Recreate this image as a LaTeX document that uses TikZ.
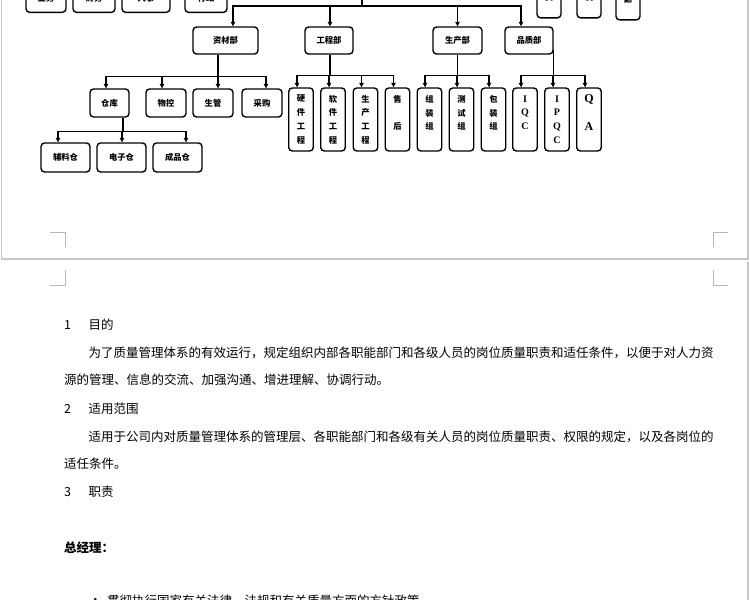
\documentclass[tikz,border=0pt]{standalone}
\usepackage{fontspec}
\setmainfont{Noto Sans CJK SC}
\newfontfamily\cnfont{Noto Sans CJK SC}
\newfontfamily\enfont{Liberation Serif}
\usetikzlibrary{arrows.meta}

\newcommand\chartfont{\cnfont\bfseries\fontsize{8.3}{13.7}\selectfont}
\newcommand\latfont{\enfont\bfseries\fontsize{10}{13.7}\selectfont}
\newcommand\bodyfont{\fontsize{12.5}{15}\selectfont}

\begin{document}
\begin{tikzpicture}[
  x=1pt, y=1pt,
  box/.style   ={draw, line width=1.4pt, rounded corners=3.5pt, fill=white,
                 inner sep=0pt, align=center, font=\chartfont},
  hbox/.style  ={box, minimum height=28},
  vbox/.style  ={box, minimum width=24.5, minimum height=63},
  cutbox/.style={box, minimum width=24, inner ysep=3.5pt},
  ar/.style    ={-{Triangle[length=4.5pt,width=4.5pt]}, line width=1.2pt},
  ln/.style    ={line width=1.2pt},
  pagebd/.style={draw=black!22, line width=1.2pt},
  crop/.style  ={draw=black!28, line width=0.8pt},
  para/.style  ={anchor=west, inner sep=0pt, font=\bodyfont}
]
\useasboundingbox (0,0) rectangle (750,-600);

% page edges and crop marks
\draw[pagebd] (1.5,5) |- (748,-259) -- (748,5);
\draw[pagebd] (748,-262) -- (748,-605);
\draw[crop] (50,-232) -| (65,-247);
\draw[crop] (728,-232) -| (713,-247);
\draw[crop] (65,-270) |- (50,-285);
\draw[crop] (713,-270) |- (728,-285);

% first row, cut by the page top
\node[hbox, minimum width=40, anchor=south] (yw) at (46,-13) {业务};
\node[hbox, minimum width=42, anchor=south] (cw) at (94,-13) {财务};
\node[hbox, minimum width=48, anchor=south] (rs) at (146,-13) {人事};
\node[hbox, minimum width=42, anchor=south] (xz) at (206,-13) {行政};
\node[cutbox, anchor=south] (wy) at (549,-18.5) {文\\员\\\mbox{}};
\node[cutbox, anchor=south] (sj) at (589,-18.5) {司\\机\\\mbox{}};
\node[cutbox, anchor=south] (hq) at (628,-20.5) {后\\勤\\\mbox{}};

% departments
\node[hbox, minimum width=65, minimum height=27] (zcb) at (225.5,-40.5) {资材部};
\node[hbox, minimum width=48, minimum height=27] (gcb) at (329,-40.5) {工程部};
\node[hbox, minimum width=49, minimum height=27] (scb) at (457.5,-40.5) {生产部};
\node[hbox, minimum width=48, minimum height=27] (pzb) at (529,-40.5) {品质部};

% sections
\node[hbox, minimum width=39] (ck) at (109.5,-103) {仓库};
\node[hbox, minimum width=40] (wk) at (166,-103) {物控};
\node[hbox, minimum width=40] (sg) at (213,-103) {生管};
\node[hbox, minimum width=40] (cg) at (262,-103) {采购};

\node[vbox] (yj)   at (301,-119.5)   {硬\\件\\工\\程};
\node[vbox] (rj)   at (333,-119.5)   {软\\件\\工\\程};
\node[vbox] (scgc) at (365.5,-119.5) {生\\产\\工\\程};
\node[vbox] (sh)   at (397.5,-119.5) {售\\\mbox{}\\后\\\mbox{}};
\node[vbox] (zz)   at (429.5,-119.5) {组\\装\\组\\\mbox{}};
\node[vbox] (cs)   at (461.5,-119.5) {测\\试\\组\\\mbox{}};
\node[vbox] (bz)   at (493.5,-119.5) {包\\装\\组\\\mbox{}};
\node[vbox, font=\latfont] (iqc)  at (525,-119.5) {I\\Q\\C\\\mbox{}};
\node[vbox, font=\latfont] (ipqc) at (557,-119.5) {I\\P\\Q\\C};
\node[vbox, font=\latfont\fontsize{12}{13.7}\selectfont] (qa) at (589,-119.5)
  {Q\\\mbox{}\\A\\\mbox{}};

% stores
\node[hbox, minimum width=49, minimum height=29] (fl) at (65.5,-157.5)  {辅料仓};
\node[hbox, minimum width=49, minimum height=29] (dz) at (121.5,-157.5) {电子仓};
\node[hbox, minimum width=49, minimum height=29] (cp) at (177.5,-157.5) {成品仓};

% connectors
\coordinate (fz) at (362,8);
\coordinate (bus) at (362,-6);
\draw[ln] (fz) -- (bus);
\draw[ar] (bus) -| ([xshift=7.5]zcb.north);
\draw[ar] (bus) -| ([xshift=1]gcb.north);
\draw[ar] (bus) -| (scb.north);
\draw[ar] (bus) -| ([xshift=-8]pzb.north);

\draw[ln] ([xshift=-7.5]zcb.south) -- ++(0,-22) coordinate (zb);
\draw[ar] (zb) -| ([xshift=-3.5]ck.north);
\draw[ar] (zb) -| ([xshift=-4]wk.north);
\draw[ar] (zb) -| ([xshift=5]sg.north);
\draw[ar] (zb) -| ([xshift=4]cg.north);

\draw[ln] ([xshift=1]gcb.south) -- ++(0,-21) coordinate (gb);
\draw[ar] (gb) -| ([xshift=-4]yj.north);
\draw[ar] (gb) -| ([xshift=-4]rj.north);
\draw[ar] (gb) -| ([xshift=-4]scgc.north);
\draw[ar] (gb) -| ([xshift=-4]sh.north);

\draw[ln] (scb.south) -- ++(0,-21) coordinate (sb);
\draw[ar] (sb) -| ([xshift=-4.5]zz.north);
\draw[ar] (sb) -| ([xshift=-4.5]cs.north);
\draw[ar] (sb) -| ([xshift=-4.5]bz.north);

\draw[ln] ([yshift=5]pzb.south east) -- ++(0,-26) coordinate (pb);
\draw[ar] (pb) -| ([xshift=-4]iqc.north);
\draw[ar] (pb) -| ([xshift=-4]ipqc.north);
\draw[ar] (pb) -| ([xshift=-4]qa.north);

\draw[ln] ([xshift=13.5]ck.south) -- ++(0,-14) coordinate (cb);
\draw[ar] (cb) -| ([xshift=-7.5]fl.north);
\draw[ar] (cb) -| ([xshift=0.5]dz.north);
\draw[ar] (cb) -| ([xshift=8.5]cp.north);

% document text
\node[para] (s1)  at (64,-325)   {\makebox[24.5pt][l]{1}目的};
\node[para] (p1a) at (88.5,-353) {为了质量管理体系的有效运行，规定组织内部各职能部门和各级人员的岗位质量职责和适任条件，以便于对人力资};
\node[para] (p1b) at (64,-380)   {源的管理、信息的交流、加强沟通、增进理解、协调行动。};
\node[para] (s2)  at (64,-409)   {\makebox[24.5pt][l]{2}适用范围};
\node[para] (p2a) at (88.5,-437) {适用于公司内对质量管理体系的管理层、各职能部门和各级有关人员的岗位质量职责、权限的规定，以及各岗位的};
\node[para] (p2b) at (64,-464)   {适任条件。};
\node[para] (s3)  at (64,-492)   {\makebox[24.5pt][l]{3}职责};
\node[para, font=\bodyfont\bfseries] (zjl) at (64,-548) {总经理：};
\node[para] (bul) at (89,-601)   {•};
\node[para] (b1)  at (107,-601)  {贯彻执行国家有关法律、法规和有关质量方面的方针政策};

\end{tikzpicture}
\end{document}
